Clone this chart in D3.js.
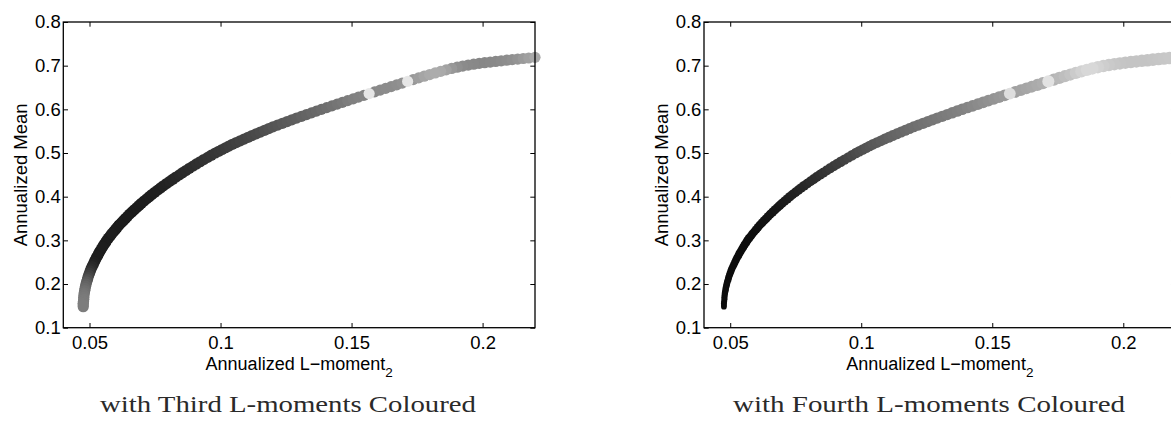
<!DOCTYPE html>
<html>
<head>
<meta charset="utf-8">
<script src="https://cdn.jsdelivr.net/npm/d3@7/dist/d3.min.js"></script>
<style>
  html, body { margin: 0; padding: 0; background: #fff; }
  svg { display: block; }
</style>
</head>
<body>
<div id="chart"></div>
<script>
// Efficient frontier portfolios: annualized L-moment 2 (risk) vs annualized mean
const lmom2 = [
  0.0476,0.0476,0.0476,0.0477,0.0478,0.0478,0.0479,0.0480,0.0482,0.0483,
  0.0485,0.0487,0.0489,0.0492,0.0494,0.0497,0.0500,0.0503,0.0506,0.0510,
  0.0514,0.0518,0.0522,0.0526,0.0531,0.0535,0.0540,0.0545,0.0550,0.0555,
  0.0561,0.0566,0.0572,0.0579,0.0585,0.0592,0.0599,0.0606,0.0613,0.0621,
  0.0629,0.0637,0.0645,0.0653,0.0662,0.0671,0.0680,0.0689,0.0698,0.0708,
  0.0718,0.0728,0.0738,0.0749,0.0760,0.0771,0.0782,0.0794,0.0806,0.0818,
  0.0830,0.0843,0.0855,0.0868,0.0881,0.0895,0.0908,0.0922,0.0936,0.0951,
  0.0965,0.0980,
  0.0993,0.1006,0.1019,0.1032,0.1045,0.1060,0.1075,0.1090,0.1105,0.1120,
  0.1136,0.1152,0.1168,0.1184,0.1200,0.1218,0.1236,0.1254,0.1272,0.1290,
  0.1309,0.1328,0.1347,0.1366,0.1385,0.1405,0.1425,0.1445,0.1465,0.1485,
  0.1506,0.1526,0.1547,0.1567,0.1588,0.1609,0.1630,0.1651,0.1672,0.1693,
  0.1714,0.1735,0.1756,0.1777,0.1798,0.1819,0.1840,0.1861,0.1882,0.1903,
  0.1924,0.1945,0.1966,0.1987,0.2008,0.2029,0.2050,0.2071,0.2092,0.2113,
  0.2134,0.2155,0.2176,0.2200
];
const annMean = [
  0.148,0.152,0.156,0.160,0.165,0.170,0.175,0.180,0.185,0.190,
  0.195,0.200,0.205,0.210,0.215,0.220,0.225,0.230,0.235,0.240,
  0.245,0.250,0.255,0.260,0.265,0.270,0.275,0.280,0.285,0.290,
  0.295,0.300,0.305,0.310,0.315,0.320,0.325,0.330,0.335,0.340,
  0.345,0.350,0.355,0.360,0.365,0.370,0.375,0.380,0.385,0.390,
  0.395,0.400,0.405,0.410,0.415,0.420,0.425,0.430,0.435,0.440,
  0.445,0.450,0.455,0.460,0.465,0.470,0.475,0.480,0.485,0.490,
  0.495,0.500,
  0.504,0.508,0.512,0.516,0.520,0.524,0.528,0.532,0.536,0.540,
  0.544,0.548,0.552,0.556,0.560,0.564,0.568,0.572,0.576,0.580,
  0.584,0.588,0.592,0.596,0.600,0.604,0.608,0.612,0.616,0.620,
  0.624,0.628,0.632,0.636,0.640,0.644,0.648,0.652,0.656,0.660,
  0.6640,0.6680,0.6720,0.6759,0.6797,0.6834,0.6870,0.6904,0.6936,0.6965,
  0.6991,0.7014,0.7034,0.7052,0.7068,0.7083,0.7097,0.7111,0.7125,0.7138,
  0.7151,0.7164,0.7176,0.7190
];
// Third L-moment of each portfolio (colour of the left panel)
const lmom3 = [
  0.050,0.050,0.049,0.048,0.047,0.045,0.043,0.039,0.035,0.030,
  0.025,0.020,0.013,0.005,-0.003,-0.010,-0.018,-0.025,-0.031,-0.035,
  -0.040,-0.043,-0.045,-0.047,-0.045,-0.047,-0.057,-0.047,-0.045,-0.047,
  -0.046,-0.057,-0.047,-0.047,-0.045,-0.058,-0.047,-0.047,-0.059,-0.047,
  -0.047,-0.057,-0.047,-0.048,-0.048,-0.048,-0.047,-0.047,-0.047,-0.046,
  -0.046,-0.045,-0.045,-0.044,-0.043,-0.043,-0.041,-0.040,-0.038,-0.037,
  -0.036,-0.035,-0.033,-0.032,-0.031,-0.030,-0.028,-0.027,-0.025,-0.023,
  -0.022,-0.020,
  -0.018,-0.017,-0.015,-0.013,-0.012,-0.010,-0.008,-0.007,-0.005,-0.003,
  -0.001,0.001,0.004,0.006,0.009,0.011,0.014,0.016,0.018,0.020,
  0.023,0.025,0.028,0.030,0.033,0.036,0.039,0.042,0.045,0.050,
  0.053,0.055,0.057,0.155,0.061,0.063,0.065,0.065,0.067,0.070,
  0.155,0.077,0.083,0.090,0.095,0.097,0.095,0.087,0.077,0.069,
  0.064,0.062,0.061,0.060,0.060,0.061,0.062,0.064,0.066,0.069,
  0.073,0.079,0.085,0.093
];
// Fourth L-moment of each portfolio (colour of the right panel)
const lmom4 = [
  0.062,0.062,0.062,0.062,0.062,0.062,0.062,0.062,0.062,0.062,
  0.062,0.062,0.062,0.062,0.062,0.062,0.062,0.062,0.062,0.062,
  0.062,0.062,0.062,0.062,0.062,0.062,0.062,0.062,0.062,0.062,
  0.062,0.062,0.063,0.063,0.064,0.064,0.065,0.066,0.066,0.067,
  0.068,0.068,0.069,0.070,0.071,0.072,0.073,0.074,0.076,0.077,
  0.078,0.080,0.082,0.083,0.085,0.087,0.088,0.090,0.093,0.095,
  0.096,0.098,0.101,0.103,0.106,0.108,0.111,0.112,0.116,0.119,
  0.122,0.125,
  0.128,0.130,0.133,0.135,0.138,0.140,0.143,0.145,0.148,0.150,
  0.152,0.154,0.156,0.158,0.160,0.162,0.164,0.166,0.168,0.170,
  0.172,0.174,0.176,0.178,0.180,0.183,0.186,0.189,0.192,0.195,
  0.198,0.201,0.204,0.272,0.210,0.213,0.216,0.218,0.221,0.224,
  0.276,0.230,0.235,0.240,0.245,0.253,0.260,0.266,0.266,0.261,
  0.256,0.252,0.249,0.247,0.246,0.246,0.246,0.246,0.246,0.247,
  0.248,0.249,0.250,0.250
];

const xTicks = [0.05, 0.1, 0.15, 0.2];
const xTickLabels = ["0.05", "0.1", "0.15", "0.2"];
const yTicks = [0.1, 0.2, 0.3, 0.4, 0.5, 0.6, 0.7, 0.8];
const yTickLabels = ["0.1", "0.2", "0.3", "0.4", "0.5", "0.6", "0.7", "0.8"];
const xLabel = "Annualized L\u2212moment";
const xLabelSub = "2";
const yLabel = "Annualized Mean";
const captions = ["with Third L-moments Coloured", "with Fourth L-moments Coloured"];

const W = 1171, H = 422;
const svg = d3.select("#chart").append("svg")
  .attr("width", W).attr("height", H)
  .attr("viewBox", `0 0 ${W} ${H}`);

const sans = "'Liberation Sans', Arial, Helvetica, sans-serif";
const fs = 18.5;

const plotW = 471.7, plotTop = 22, plotBottom = 327.7;

const panels = [
  {
    left: 63.3,
    colourValues: lmom3,
    grey: ["#101010", "#e6e6e6"],
    sized: false,
    caption: captions[0],
    captionX: 288,
    captionW: 376
  },
  {
    left: 704,
    colourValues: lmom4,
    grey: ["#0c0c0c", "#e2e2e2"],
    sized: true,
    caption: captions[1],
    captionX: 929,
    captionW: 392
  }
];

const points = lmom2.map((x, i) => ({ x, y: annMean[i], i }));

panels.forEach(p => {
  const x = d3.scaleLinear().domain([0.04, 0.22]).range([p.left, p.left + plotW]);
  const y = d3.scaleLinear().domain([0.1, 0.8]).range([plotBottom, plotTop]);
  const colour = d3.scaleLinear()
    .domain(d3.extent(p.colourValues))
    .range(p.grey)
    .interpolate(d3.interpolateRgb);
  const r = d3.scaleSqrt().domain([0, 0.72]).range([0, 6.3]);

  const g = svg.append("g");

  // scatter: lighter points are painted last
  const order = points.slice().sort((a, b) => p.colourValues[a.i] - p.colourValues[b.i]);
  g.append("g").selectAll("circle")
    .data(order)
    .join("circle")
    .attr("cx", d => x(d.x))
    .attr("cy", d => y(d.y))
    .attr("r", d => p.sized ? r(d.y) : 5.6)
    .attr("fill", d => colour(p.colourValues[d.i]));

  // axes (box with inward ticks on every side)
  const styleAxis = sel => {
    sel.selectAll(".domain").remove();
    sel.selectAll(".tick line").attr("stroke", "#000").attr("stroke-width", 1);
    sel.selectAll("text")
      .attr("font-family", sans)
      .attr("font-size", fs)
      .attr("fill", "#000");
  };

  g.append("g")
    .attr("transform", `translate(0,${plotBottom})`)
    .call(d3.axisBottom(x).tickValues(xTicks)
      .tickFormat((d, i) => xTickLabels[i])
      .tickSizeInner(-4.7).tickSizeOuter(0).tickPadding(8.2))
    .call(styleAxis);

  g.append("g")
    .attr("transform", `translate(0,${plotTop})`)
    .call(d3.axisTop(x).tickValues(xTicks).tickFormat("")
      .tickSizeInner(-4.7).tickSizeOuter(0))
    .call(styleAxis);

  g.append("g")
    .attr("transform", `translate(${p.left},0)`)
    .call(d3.axisLeft(y).tickValues(yTicks)
      .tickFormat((d, i) => yTickLabels[i])
      .tickSizeInner(-4.7).tickSizeOuter(0).tickPadding(2.6))
    .call(styleAxis);

  g.append("g")
    .attr("transform", `translate(${p.left + plotW},0)`)
    .call(d3.axisRight(y).tickValues(yTicks).tickFormat("")
      .tickSizeInner(-4.7).tickSizeOuter(0))
    .call(styleAxis);

  g.append("rect")
    .attr("x", p.left).attr("y", plotTop)
    .attr("width", plotW).attr("height", plotBottom - plotTop)
    .attr("fill", "none").attr("stroke", "#000").attr("stroke-width", 1.3);

  // axis titles
  const xt = g.append("text")
    .attr("x", p.left + plotW / 2).attr("y", 369.6)
    .attr("text-anchor", "middle")
    .attr("font-family", sans).attr("font-size", 18).attr("fill", "#000");
  xt.append("tspan").text(xLabel);
  xt.append("tspan").attr("dy", 7).attr("font-size", 13.5).text(xLabelSub);

  g.append("text")
    .attr("transform", `translate(${p.left - 36.3},${(plotTop + plotBottom) / 2}) rotate(-90)`)
    .attr("text-anchor", "middle")
    .attr("font-family", sans).attr("font-size", fs).attr("fill", "#000")
    .text(yLabel);

  // caption under the panel
  g.append("text")
    .attr("x", p.captionX).attr("y", 412)
    .attr("text-anchor", "middle")
    .attr("font-family", "'Liberation Serif', 'Times New Roman', serif")
    .attr("font-size", 23)
    .attr("fill", "#2a2a2a")
    .attr("textLength", p.captionW)
    .attr("lengthAdjust", "spacingAndGlyphs")
    .text(p.caption);
});
</script>
</body>
</html>
